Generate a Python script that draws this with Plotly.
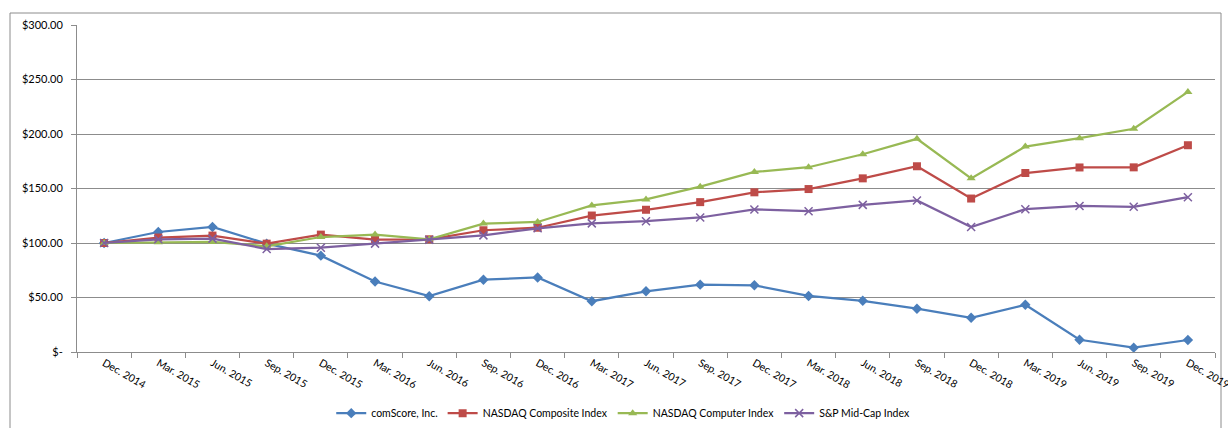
import plotly.graph_objects as go

categories = ["Dec. 2014", "Mar. 2015", "Jun. 2015", "Sep. 2015", "Dec. 2015", "Mar. 2016",
              "Jun. 2016", "Sep. 2016", "Dec. 2016", "Mar. 2017", "Jun. 2017", "Sep. 2017",
              "Dec. 2017", "Mar. 2018", "Jun. 2018", "Sep. 2018", "Dec. 2018", "Mar. 2019",
              "Jun. 2019", "Sep. 2019", "Dec. 2019"]

comscore = [100.0, 110.1, 114.7, 99.4, 88.4, 64.7, 51.2, 66.3, 68.4, 46.6, 55.7, 61.8,
            61.2, 51.4, 47.0, 39.7, 31.4, 43.3, 11.2, 4.0, 11.0]
nasdaq_composite = [100.0, 105.0, 106.8, 99.4, 107.7, 103.0, 103.4, 111.7, 114.0, 125.2, 130.5,
                    137.5, 146.5, 149.5, 159.3, 170.4, 140.8, 164.2, 169.3, 169.4, 189.7]
nasdaq_computer = [100.0, 100.6, 101.0, 97.0, 105.5, 107.7, 103.4, 117.8, 119.3, 134.5, 140.0,
                   151.7, 165.2, 169.5, 181.4, 195.6, 159.3, 188.5, 196.2, 204.8, 238.6]
sp_midcap = [100.0, 103.4, 104.0, 94.5, 95.7, 99.4, 103.0, 107.0, 113.5, 118.0, 120.0, 123.4,
             130.8, 129.2, 135.0, 139.0, 114.7, 131.0, 134.0, 133.2, 142.0]

series_names = ["comScore, Inc.", "NASDAQ Composite Index", "NASDAQ Computer Index", "S&P Mid-Cap Index"]

y_tickvals = [0, 50, 100, 150, 200, 250, 300]
y_ticktext = ["$-", "$50.00", "$100.00", "$150.00", "$200.00", "$250.00", "$300.00"]

colors = ["#4A7EBB", "#BE4B48", "#98B954", "#7D60A0"]
symbols = ["diamond", "square", "triangle-up", "x-thin"]
sizes = [8, 8, 8, 8]

fig = go.Figure()
for name, vals, col, sym, sz in zip(series_names,
                                    [comscore, nasdaq_composite, nasdaq_computer, sp_midcap],
                                    colors, symbols, sizes):
    marker = dict(symbol=sym, size=sz, color=col)
    if sym == "x-thin":
        marker["line"] = dict(color=col, width=1.5)
    else:
        marker["line"] = dict(width=0)
    fig.add_trace(go.Scatter(x=categories, y=vals, name=name, mode="lines+markers",
                             line=dict(color=col, width=2.25), marker=marker))

grid_col = "#8C8C8C"
fig.update_layout(
    width=1228, height=428,
    margin=dict(l=77, r=13, t=25, b=76, autoexpand=False),
    paper_bgcolor="white", plot_bgcolor="white",
    font=dict(family="Lato, 'Open Sans', sans-serif", size=11, color="#000000"),
    showlegend=True,
    legend=dict(orientation="h", x=0.480, xanchor="center", y=-0.187, yanchor="middle",
                font=dict(size=10.5), itemwidth=30, tracegroupgap=0,
                bgcolor="rgba(0,0,0,0)"),
    xaxis=dict(type="category", range=[-0.5, 20.5], tickson="boundaries", ticks="outside",
               ticklen=5, tickcolor=grid_col, showline=True, linecolor=grid_col, linewidth=1,
               showgrid=False, tickangle=30, tickfont=dict(size=10.5), automargin=False),
    yaxis=dict(range=[0, 300], tickvals=y_tickvals, ticktext=y_ticktext, ticks="outside",
               ticklen=5, tickcolor=grid_col, showline=True, linecolor=grid_col, linewidth=1,
               showgrid=True, gridcolor=grid_col, gridwidth=1, zeroline=False,
               ticklabelstandoff=6, tickfont=dict(size=11), automargin=False),
)

# outer chart border
fig.add_shape(type="rect", xref="paper", yref="paper",
              x0=(10 - 77) / 1138, x1=(1221 - 77) / 1138,
              y0=-0.4, y1=(352 - 13) / 327,
              line=dict(color="#8C8C8C", width=1), fillcolor="rgba(0,0,0,0)", layer="below")

fig.write_html("out.html")
